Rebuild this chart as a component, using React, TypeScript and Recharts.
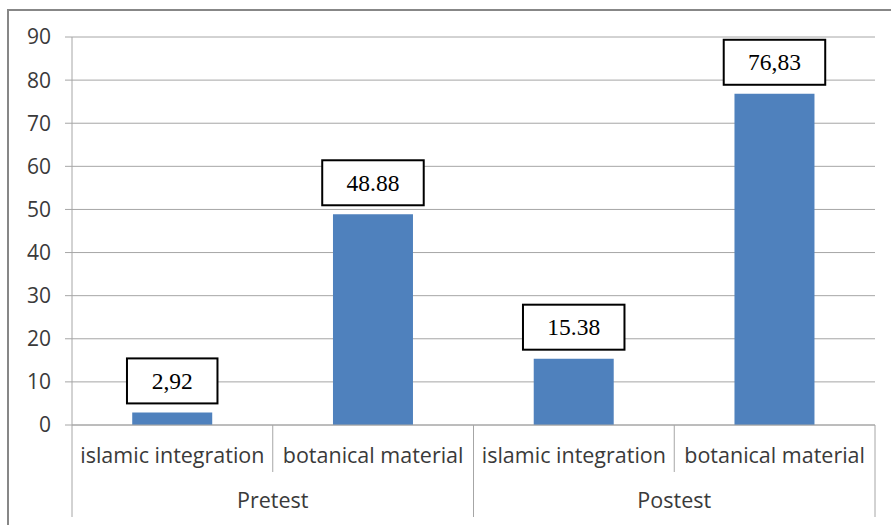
import { BarChart, Bar, XAxis, YAxis, CartesianGrid, LabelList } from 'recharts';

const subCategories = ['islamic integration', 'botanical material', 'islamic integration', 'botanical material'];
const groups = ['Pretest', 'Pretest', 'Postest', 'Postest'];
const values = [2.92, 48.88, 15.38, 76.83];
const valueLabels = ['2,92', '48.88', '15.38', '76,83'];
const yTicks = [0, 10, 20, 30, 40, 50, 60, 70, 80, 90];

const data = values.map((v, i) => ({
  name: `${groups[i]}-${i}`,
  sub: subCategories[i],
  group: groups[i],
  value: v,
  label: valueLabels[i],
}));

const W = 891;
const H = 525;
const MARGIN = { top: 37, right: 16, left: 0, bottom: 8 };
const Y_WIDTH = 72;
const BAND = (W - MARGIN.right - Y_WIDTH) / data.length;
const AXIS_FONT = '"Open Sans", sans-serif';
const GRID = '#a6a6a6';

function CategoryTick(props: any) {
  const { x, y, payload } = props;
  const i = payload.index;
  const left = x - BAND / 2;
  const right = x + BAND / 2;
  return (
    <g>
      <line x1={left} y1={y} x2={left} y2={y + (i % 2 === 0 ? 92 : 47)} stroke={GRID} />
      {i === data.length - 1 && <line x1={right} y1={y} x2={right} y2={y + 92} stroke={GRID} />}
      <text x={x} y={y + 38} textAnchor="middle" fontSize={21.5} fill="#3a3a3a" fontFamily={AXIS_FONT}>
        {data[i].sub}
      </text>
      {i % 2 === 1 && (
        <text x={left} y={y + 83} textAnchor="middle" fontSize={21.5} fill="#3a3a3a" fontFamily={AXIS_FONT}>
          {data[i].group}
        </text>
      )}
    </g>
  );
}

function BoxLabel(props: any) {
  const { x, y, width, value } = props;
  const text = String(value);
  // rough width of Times digits and punctuation
  const tw = text.split('').reduce((s, c) => s + (/[0-9]/.test(c) ? 11 : 5.5), 0);
  const bw = tw + 52;
  const bh = 45;
  const cx = x + width / 2;
  const bottom = y - 9;
  return (
    <g>
      <rect x={cx - bw / 2} y={bottom - bh} width={bw} height={bh} fill="#fff" stroke="#000" strokeWidth={2} />
      <text
        x={cx}
        y={bottom - bh / 2 + 8}
        textAnchor="middle"
        fontSize={23.5}
        fill="#000"
        fontFamily='"Liberation Serif", "Times New Roman", serif'
      >
        {text}
      </text>
    </g>
  );
}

export default function App() {
  return (
    <div style={{ position: 'absolute', left: 0, top: 0, width: W, height: H, overflow: 'hidden', background: '#fff' }}>
      <div
        style={{
          position: 'absolute',
          left: 7,
          top: 9,
          width: 910,
          height: 540,
          border: '2px solid #878787',
        }}
      />
      <div style={{ position: 'absolute', left: 0, top: 0 }}>
        <BarChart width={W} height={H} data={data} margin={MARGIN} barCategoryGap="30%">
          <CartesianGrid vertical={false} stroke={GRID} />
          <XAxis
            dataKey="name"
            interval={0}
            height={92}
            tickSize={0}
            tickMargin={0}
            axisLine={{ stroke: GRID }}
            tickLine={false}
            tick={<CategoryTick />}
          />
          <YAxis
            width={Y_WIDTH}
            domain={[0, 90]}
            ticks={yTicks}
            interval={0}
            tickSize={7}
            tickMargin={14}
            axisLine={{ stroke: GRID }}
            tickLine={{ stroke: GRID }}
            tick={{ fontSize: 21, fill: '#3a3a3a', fontFamily: AXIS_FONT }}
          />
          <Bar dataKey="value" fill="#4f81bd" isAnimationActive={false}>
            <LabelList dataKey="label" content={<BoxLabel />} />
          </Bar>
        </BarChart>
      </div>
    </div>
  );
}
